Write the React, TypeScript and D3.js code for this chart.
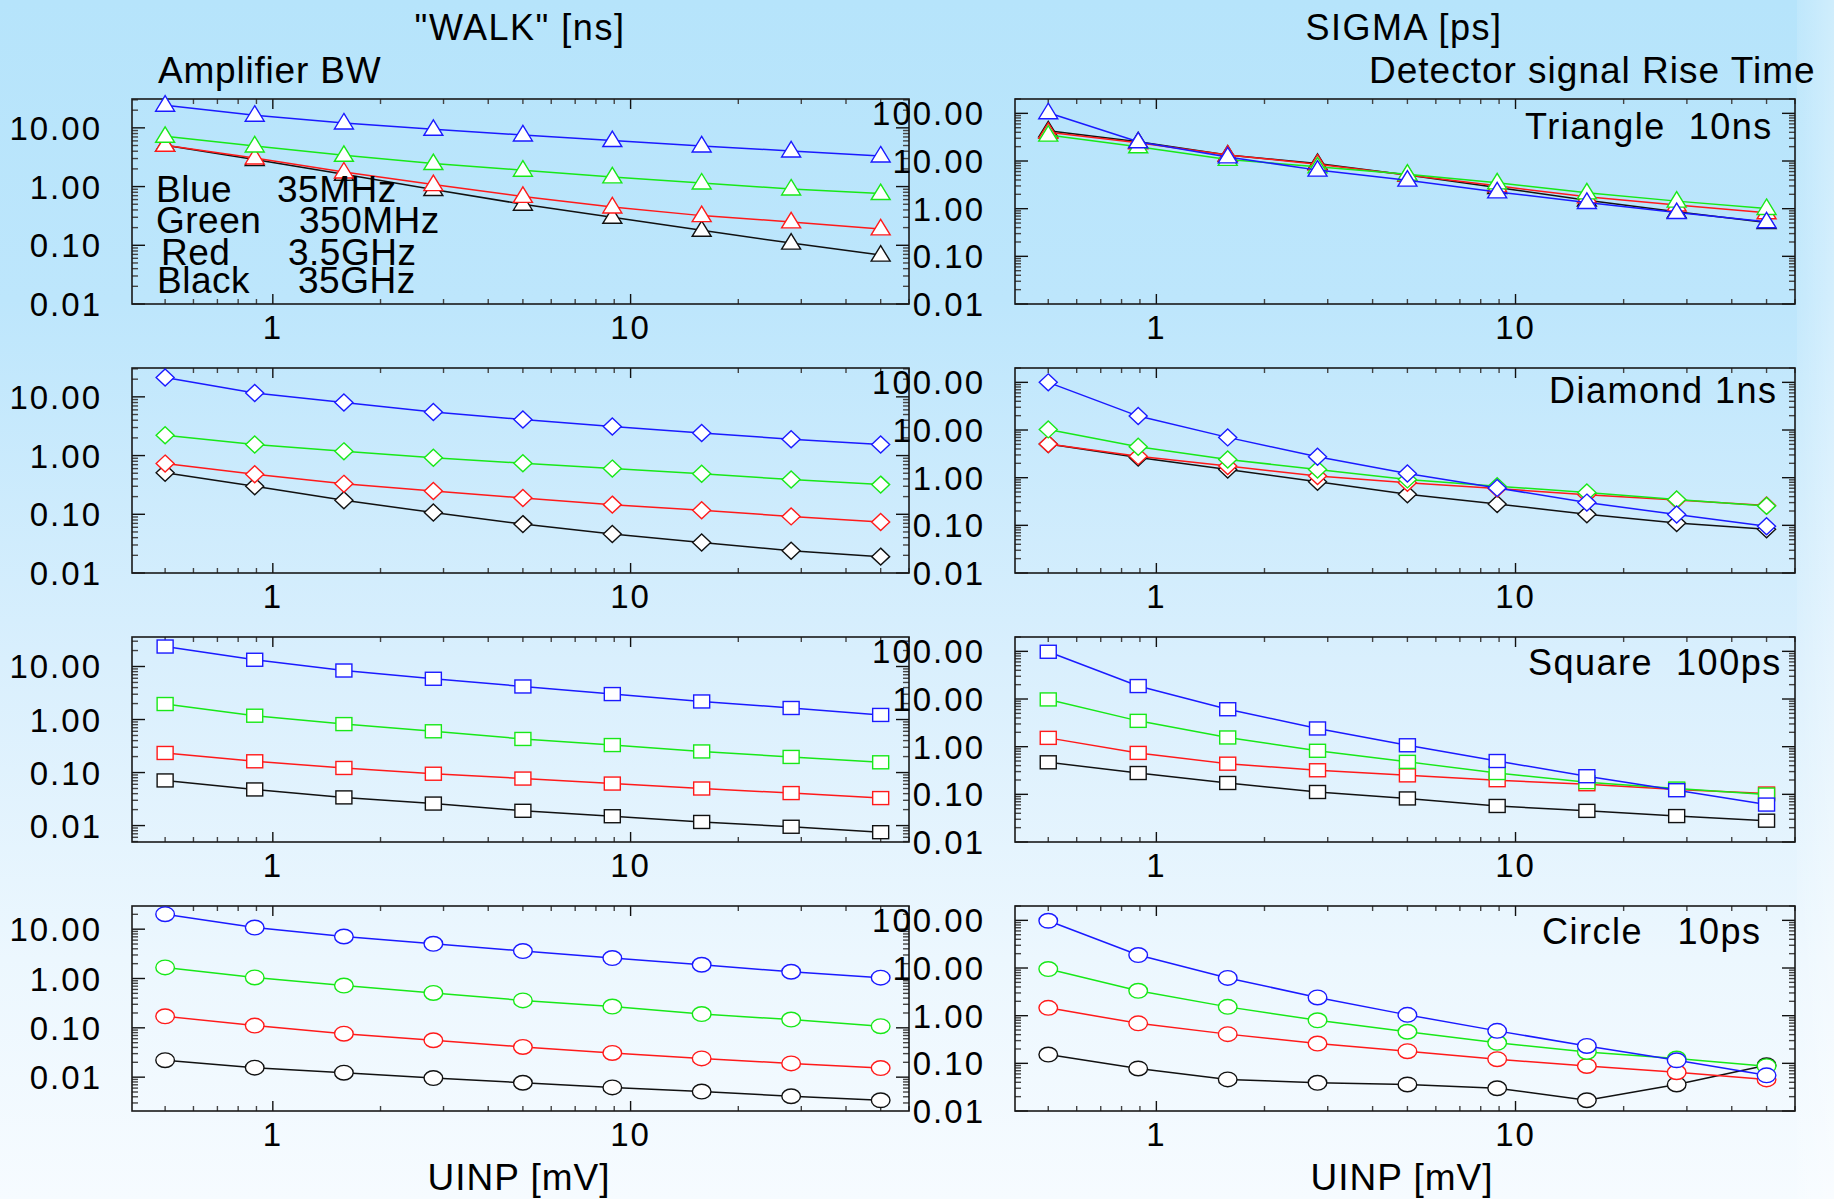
import React from 'react';
import * as d3 from 'd3';

// ---------- DATA ----------
const uinp = [0.5, 0.89, 1.58, 2.81, 5, 8.89, 15.8, 28.1, 50];

// series order inside each panel: Black, Red, Green, Blue (drawing order)
const seriesNames = ['Black', 'Red', 'Green', 'Blue'];
const seriesColors = ['#111111', '#ff1a1a', '#18e818', '#1a1aff'];

const walkTriangle = [
  [5.06, 2.88, 1.62, 0.89, 0.5, 0.3, 0.18, 0.109, 0.068],
  [5.06, 3.07, 1.77, 1.08, 0.68, 0.45, 0.32, 0.25, 0.19],
  [7.19, 4.92, 3.41, 2.47, 1.9, 1.46, 1.15, 0.91, 0.76],
  [24.3, 16.4, 12.1, 9.46, 7.57, 6.08, 4.92, 4.04, 3.32],
];
const sigmaTriangle = [
  [43.1, 25.3, 13.3, 8.9, 5.06, 2.79, 1.51, 0.86, 0.51],
  [39.9, 24.1, 13.3, 8.6, 5.06, 3.01, 1.77, 1.19, 0.82],
  [35, 19.9, 10.8, 7.55, 5.3, 3.48, 2.15, 1.44, 1.01],
  [103, 25.3, 12.2, 6.44, 3.97, 2.25, 1.35, 0.83, 0.53],
];
const walkDiamond = [
  [0.51, 0.3, 0.173, 0.107, 0.068, 0.046, 0.033, 0.024, 0.019],
  [0.73, 0.48, 0.33, 0.25, 0.19, 0.146, 0.117, 0.092, 0.074],
  [2.22, 1.54, 1.18, 0.92, 0.74, 0.6, 0.49, 0.39, 0.32],
  [21.3, 11.6, 8.0, 5.53, 4.1, 3.12, 2.43, 1.9, 1.54],
];
const sigmaDiamond = [
  [5.06, 2.66, 1.49, 0.82, 0.45, 0.28, 0.171, 0.112, 0.083],
  [5.06, 2.83, 1.75, 1.08, 0.78, 0.59, 0.44, 0.34, 0.26],
  [10.3, 4.44, 2.41, 1.49, 0.92, 0.66, 0.49, 0.35, 0.256],
  [100, 19.6, 7.0, 2.74, 1.22, 0.61, 0.3, 0.169, 0.096],
];
const walkSquare = [
  [0.071, 0.048, 0.034, 0.026, 0.019, 0.015, 0.0117, 0.0095, 0.0075],
  [0.234, 0.163, 0.122, 0.095, 0.077, 0.062, 0.05, 0.041, 0.033],
  [1.96, 1.18, 0.82, 0.6, 0.43, 0.33, 0.25, 0.197, 0.156],
  [23.8, 13.4, 8.4, 5.87, 4.2, 3.02, 2.19, 1.65, 1.22],
];
const sigmaSquare = [
  [0.47, 0.28, 0.173, 0.112, 0.082, 0.057, 0.045, 0.035, 0.028],
  [1.53, 0.74, 0.44, 0.32, 0.25, 0.198, 0.163, 0.126, 0.104],
  [9.8, 3.48, 1.56, 0.82, 0.48, 0.28, 0.18, 0.132, 0.099],
  [98, 18.7, 6.1, 2.41, 1.07, 0.5, 0.24, 0.122, 0.061],
];
const walkCircle = [
  [0.0221, 0.0156, 0.0123, 0.0096, 0.0077, 0.0062, 0.0051, 0.0041, 0.0034],
  [0.171, 0.111, 0.076, 0.056, 0.041, 0.031, 0.024, 0.019, 0.0153],
  [1.68, 1.05, 0.72, 0.51, 0.36, 0.27, 0.19, 0.147, 0.108],
  [20.1, 10.8, 7.1, 5.05, 3.6, 2.6, 1.9, 1.37, 1.04],
];
const sigmaCircle = [
  [0.153, 0.078, 0.046, 0.039, 0.036, 0.03, 0.0168, 0.036, 0.091],
  [1.46, 0.69, 0.41, 0.26, 0.18, 0.122, 0.088, 0.065, 0.046],
  [9.5, 3.32, 1.53, 0.8, 0.46, 0.27, 0.173, 0.126, 0.087],
  [98, 18.7, 6.2, 2.41, 1.04, 0.48, 0.232, 0.116, 0.056],
];

const walkPanels = [walkTriangle, walkDiamond, walkSquare, walkCircle];
const sigmaPanels = [sigmaTriangle, sigmaDiamond, sigmaSquare, sigmaCircle];
const markerShapes = ['triangle', 'diamond', 'square', 'circle'];
const panelLabels = ['Triangle  10ns', 'Diamond 1ns', 'Square  100ps', 'Circle   10ps'];

const walkYDomains = [[0.01, 31], [0.01, 31], [0.0049, 36], [0.00206, 29.5]];
const sigmaYDomain = [0.01, 200];
const xDomain = [0.404, 60];
const xMajorTicks = [1, 10];

const legendNames = ['Blue', 'Green', 'Red', 'Black'];
const legendValues = ['35MHz', '350MHz', '3.5GHz', '35GHz'];

const walkTitle = '"WALK" [ns]';
const sigmaTitle = 'SIGMA [ps]';
const walkSubtitle = 'Amplifier BW';
const sigmaSubtitle = 'Detector signal Rise Time';
const xTitle = 'UINP [mV]';

// ---------- LAYOUT ----------
const W = 1834;
const H = 1199;
const FONT = "'Liberation Sans', Arial, Helvetica, sans-serif";
const leftCol = [132, 909];
const rightCol = [1015, 1795];
const rowTops = [99, 368, 637, 906];
const panelH = 205;
const labelStarts = [1525, 1549, 1528, 1542];
const labelBaselines = [139, 403, 675, 944];
const legendNameX = [156, 156, 161, 157];
const legendValueX = [277, 299, 288, 298];
const legendBaselines = [201.7, 233.3, 265, 293.3];

const fmt = d3.format('.2f');

function logTicks(d0: number, d1: number) {
  const res: { v: number; major: boolean }[] = [];
  const k0 = Math.floor(Math.log10(d0)) - 1;
  const k1 = Math.ceil(Math.log10(d1)) + 1;
  for (let k = k0; k <= k1; k++) {
    for (let m = 1; m <= 9; m++) {
      const v = m * Math.pow(10, k);
      if (v >= d0 * 0.999 && v <= d1 * 1.001) res.push({ v, major: m === 1 });
    }
  }
  return res;
}

function Marker({ shape, cx, cy, color }: any) {
  const sw = 1.4;
  if (shape === 'triangle') {
    return (
      <path
        d={`M${cx},${cy - 9.5} L${cx + 9.5},${cy + 6} L${cx - 9.5},${cy + 6} Z`}
        fill="#fff"
        stroke={color}
        strokeWidth={sw}
      />
    );
  }
  if (shape === 'diamond') {
    return (
      <path
        d={`M${cx},${cy - 8.5} L${cx + 9},${cy} L${cx},${cy + 8.5} L${cx - 9},${cy} Z`}
        fill="#fff"
        stroke={color}
        strokeWidth={sw}
      />
    );
  }
  if (shape === 'square') {
    return <rect x={cx - 8} y={cy - 6.5} width={16} height={13} fill="#fff" stroke={color} strokeWidth={sw} />;
  }
  return <ellipse cx={cx} cy={cy} rx={9.3} ry={7.3} fill="#fff" stroke={color} strokeWidth={sw} />;
}

function Panel({ x0, x1, y0, yDomain, data, shape }: any) {
  const y1 = y0 + panelH;
  const xs = d3.scaleLog().domain(xDomain).range([x0, x1]);
  const ys = d3.scaleLog().domain(yDomain).range([y1, y0]);
  const xt = logTicks(xDomain[0], xDomain[1]);
  const yt = logTicks(yDomain[0], yDomain[1]);
  const line = d3
    .line<number>()
    .x((_, i) => xs(uinp[i]))
    .y((d) => ys(d));

  return (
    <g>
      {/* y ticks left & right */}
      {yt.map((t, i) => {
        const y = ys(t.v);
        const len = t.major ? 13 : 6;
        const col = t.major ? '#111' : '#444';
        return (
          <g key={'y' + i}>
            <line x1={x0} x2={x0 + len} y1={y} y2={y} stroke={col} strokeWidth={1.4} />
            <line x1={x1} x2={x1 - len} y1={y} y2={y} stroke={col} strokeWidth={1.4} />
          </g>
        );
      })}
      {/* x ticks bottom & top */}
      {xt.map((t, i) => {
        const x = xs(t.v);
        const len = t.major ? 10 : 5;
        const col = t.major ? '#111' : '#444';
        return (
          <g key={'x' + i}>
            <line x1={x} x2={x} y1={y1} y2={y1 - len} stroke={col} strokeWidth={1.4} />
            <line x1={x} x2={x} y1={y0} y2={y0 + len} stroke={col} strokeWidth={1.4} />
          </g>
        );
      })}
      <rect x={x0} y={y0} width={x1 - x0} height={panelH} fill="none" stroke="#1a1a1a" strokeWidth={1.6} />
      {/* y labels */}
      {yt
        .filter((t) => t.major)
        .map((t, i) => (
          <text
            key={'yl' + i}
            x={x0 - 30}
            y={ys(t.v) + 12}
            textAnchor="end"
            fontSize={33}
            letterSpacing={2}
            fontFamily={FONT}
            fill="#000"
          >
            {fmt(t.v)}
          </text>
        ))}
      {/* x labels */}
      {xMajorTicks.map((v, i) => (
        <text
          key={'xl' + i}
          x={xs(v)}
          y={y1 + 35}
          textAnchor="middle"
          fontSize={33}
          letterSpacing={2}
          fontFamily={FONT}
          fill="#000"
        >
          {String(v)}
        </text>
      ))}
      {/* series */}
      {data.map((vals: number[], si: number) => (
        <g key={'s' + si}>
          <path d={line(vals) || ''} fill="none" stroke={seriesColors[si]} strokeWidth={1.5} />
          {vals.map((v, j) => (
            <Marker key={j} shape={shape} cx={xs(uinp[j])} cy={ys(v)} color={seriesColors[si]} />
          ))}
        </g>
      ))}
    </g>
  );
}

export default function App() {
  return (
    <svg
      width={W}
      height={H}
      viewBox={`0 0 ${W} ${H}`}
      style={{ position: 'absolute', left: 0, top: 0, display: 'block' }}
    >
      <defs>
        <linearGradient id="bg" x1="0" y1="0" x2="0" y2="1">
          <stop offset="0" stopColor="#b6e4fb" />
          <stop offset="0.25" stopColor="#bde6fc" />
          <stop offset="0.55" stopColor="#d9effd" />
          <stop offset="0.8" stopColor="#ecf7fe" />
          <stop offset="1" stopColor="#f6fbff" />
        </linearGradient>
        <linearGradient id="edge" x1="0" y1="0" x2="1" y2="0">
          <stop offset="0" stopColor="#ffffff" stopOpacity="0.12" />
          <stop offset="1" stopColor="#ffffff" stopOpacity="0.35" />
        </linearGradient>
      </defs>
      <rect x={0} y={0} width={W} height={H} fill="url(#bg)" />
      <rect x={1797} y={0} width={W - 1797} height={H} fill="url(#edge)" />

      {walkPanels.map((d, r) => (
        <Panel
          key={'w' + r}
          x0={leftCol[0]}
          x1={leftCol[1]}
          y0={rowTops[r]}
          yDomain={walkYDomains[r]}
          data={d}
          shape={markerShapes[r]}
        />
      ))}
      {sigmaPanels.map((d, r) => (
        <Panel
          key={'s' + r}
          x0={rightCol[0]}
          x1={rightCol[1]}
          y0={rowTops[r]}
          yDomain={sigmaYDomain}
          data={d}
          shape={markerShapes[r]}
        />
      ))}

      {/* panel labels */}
      {panelLabels.map((t, r) => (
        <text
          key={'pl' + r}
          x={labelStarts[r]}
          y={labelBaselines[r]}
          fontSize={36}
          letterSpacing={1.5}
          fontFamily={FONT}
          style={{ whiteSpace: 'pre' }}
          fill="#000"
        >
          {t}
        </text>
      ))}

      {/* legend */}
      {legendNames.map((n, i) => (
        <g key={'lg' + i}>
          <text x={legendNameX[i]} y={legendBaselines[i]} fontSize={37} letterSpacing={0.5} fontFamily={FONT} fill="#000">
            {n}
          </text>
          <text x={legendValueX[i]} y={legendBaselines[i]} fontSize={37} letterSpacing={0.5} fontFamily={FONT} fill="#000">
            {legendValues[i]}
          </text>
        </g>
      ))}

      {/* titles */}
      <text x={520} y={39.5} textAnchor="middle" fontSize={36} letterSpacing={1.5} fontFamily={FONT} fill="#000">
        {walkTitle}
      </text>
      <text x={1404} y={39.5} textAnchor="middle" fontSize={36} letterSpacing={1.5} fontFamily={FONT} fill="#000">
        {sigmaTitle}
      </text>
      <text x={158} y={82.7} fontSize={37} letterSpacing={0.8} fontFamily={FONT} fill="#000">
        {walkSubtitle}
      </text>
      <text x={1369} y={83} fontSize={37} letterSpacing={1} fontFamily={FONT} fill="#000">
        {sigmaSubtitle}
      </text>
      <text x={519} y={1190} textAnchor="middle" fontSize={37} letterSpacing={1} fontFamily={FONT} fill="#000">
        {xTitle}
      </text>
      <text x={1402} y={1190} textAnchor="middle" fontSize={37} letterSpacing={1} fontFamily={FONT} fill="#000">
        {xTitle}
      </text>
    </svg>
  );
}
